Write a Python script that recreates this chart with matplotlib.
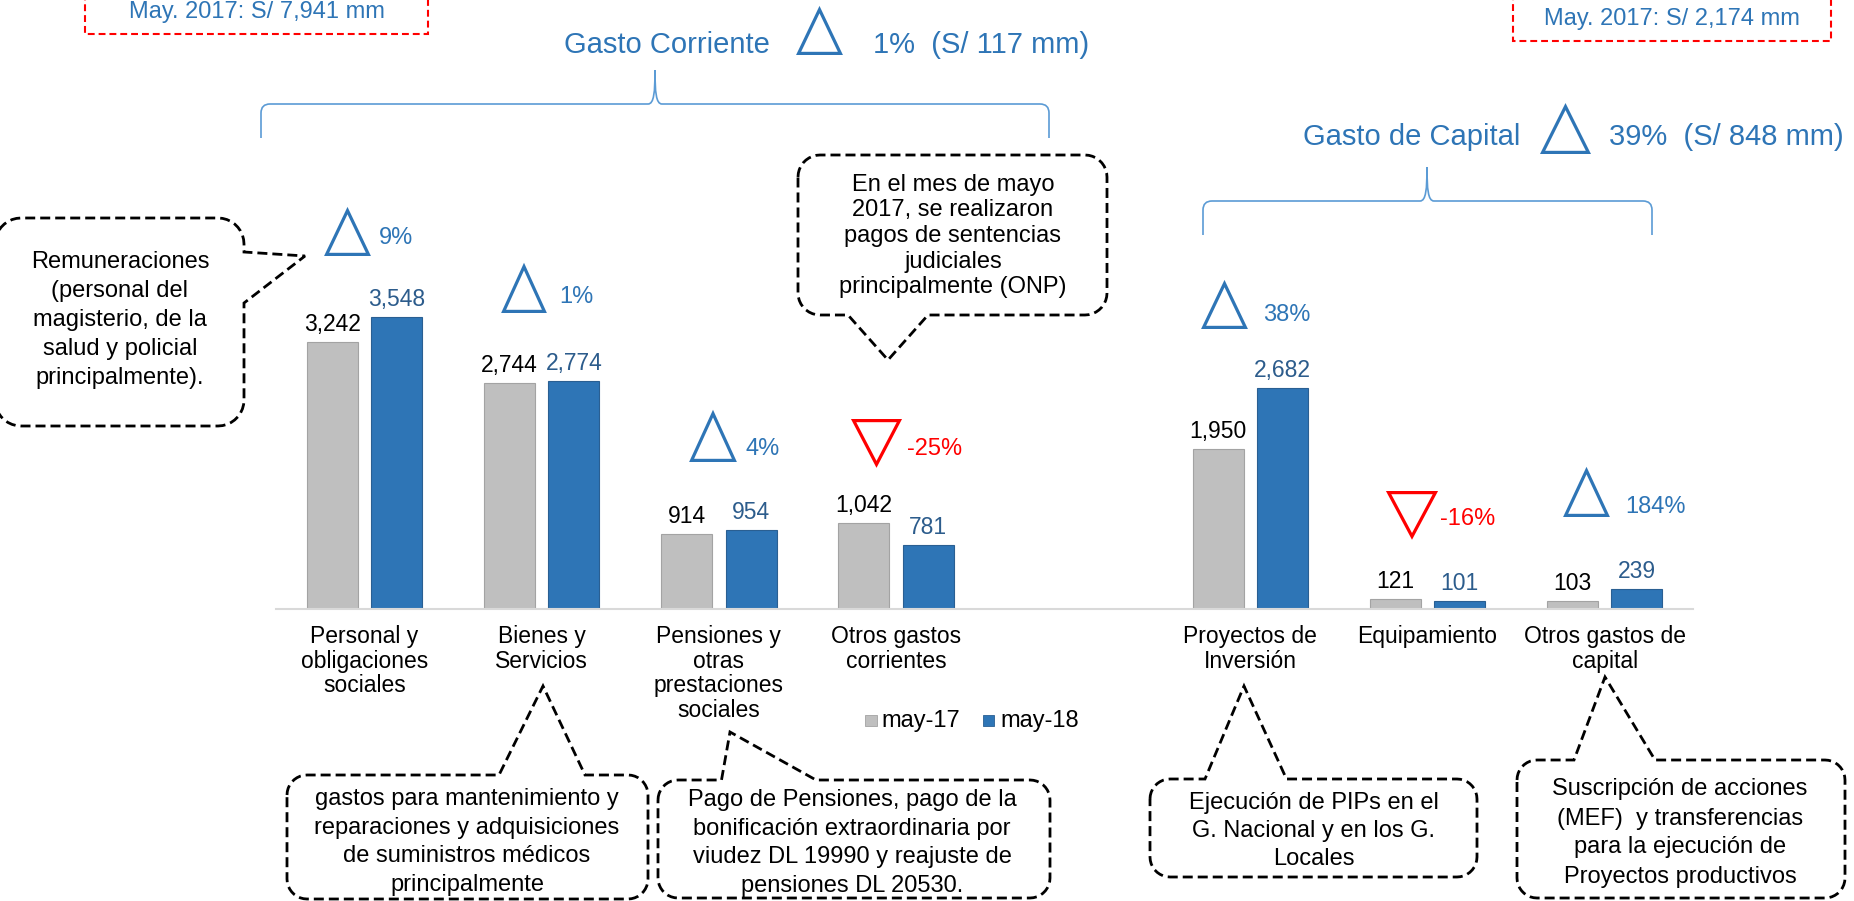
import matplotlib
matplotlib.use('Agg')
import matplotlib.pyplot as plt
import matplotlib.transforms as mtransforms
from matplotlib.patches import Polygon, Rectangle, PathPatch
from matplotlib.path import Path
import numpy as np

plt.rcParams['font.family'] = ['Liberation Sans', 'DejaVu Sans']

# --- data (S/ millones) ---
categories = ['Personal y\nobligaciones\nsociales', 'Bienes y\nServicios',
              'Pensiones y\notras\nprestaciones\nsociales', 'Otros gastos\ncorrientes',
              'Proyectos de\nInversión', 'Equipamiento', 'Otros gastos de\ncapital']
slots = [0, 1, 2, 3, 5, 6, 7]          # slot 4 is the gap between the two groups
may17 = [3242, 2744, 914, 1042, 1950, 121, 103]
may18 = [3548, 2774, 954, 781, 2682, 101, 239]
var_pct = [9, 1, 4, -25, 38, -16, 184]
series = ['may-17', 'may-18']

corr_2017, corr_diff, corr_pct = 7941, 117, 1
cap_2017, cap_diff, cap_pct = 2174, 848, 39

notes = {
    'remun': 'Remuneraciones\n(personal del\nmagisterio, de la\nsalud y policial\nprincipalmente).',
    'onp': 'En el mes de mayo\n2017, se realizaron\npagos de sentencias\njudiciales\nprincipalmente (ONP)',
    'bienes': 'gastos para mantenimiento y\nreparaciones y adquisiciones\nde suministros médicos\nprincipalmente',
    'pens': 'Pago de Pensiones, pago de la\nbonificación extraordinaria por\nviudez DL 19990 y reajuste de\npensiones DL 20530.',
    'pip': 'Ejecución de PIPs en el\nG. Nacional y en los G.\nLocales',
    'susc': 'Suscripción de acciones\n(MEF)  y transferencias\npara la ejecución de\nProyectos productivos',
}

# --- colours ---
grey, grey_edge = '#BFBFBF', '#A3A3A3'
blue, blue_edge = '#2E75B6', '#2A5F92'
blue_txt = '#2E75B6'
blue_val = '#2C5C8C'
red = '#FF0000'
brace_c = '#5B9BD5'

W, H = 1854, 901
fig = plt.figure(figsize=(W / 100, H / 100), dpi=100)

# bar axes: baseline at y=609 px from top, 0.0823 px per unit
ymax = 4000
ax = fig.add_axes([275.9 / W, (H - 609) / H, 1417.4 / W, ymax * 0.0823 / H])
ax.set_xlim(-0.5, 7.5)
ax.set_ylim(0, ymax)
ax.patch.set_visible(False)
for s in ['top', 'right', 'left']:
    ax.spines[s].set_visible(False)
ax.spines['bottom'].set_color('#D9D9D9')
ax.spines['bottom'].set_linewidth(1.5)
ax.set_xticks([])
ax.set_yticks([])

bw, off = 0.288, 0.182
x = np.array(slots, dtype=float)
ax.bar(x - off, may17, width=bw, color=grey, edgecolor=grey_edge, linewidth=0.8, label=series[0])
ax.bar(x + off, may18, width=bw, color=blue, edgecolor=blue_edge, linewidth=0.8, label=series[1])
for xi, v in zip(x - off, may17):
    ax.annotate(f'{v:,}', (xi, v), xytext=(0, 11), textcoords='offset pixels',
                ha='center', va='baseline', fontsize=16.5, color='black')
for xi, v in zip(x + off, may18):
    ax.annotate(f'{v:,}', (xi, v), xytext=(0, 11), textcoords='offset pixels',
                ha='center', va='baseline', fontsize=16.5, color=blue_val)

# overlay in pixel coordinates (y from top)
ov = fig.add_axes([0, 0, 1, 1])
ov.set_xlim(0, W)
ov.set_ylim(H, 0)
ov.axis('off')

# category labels under the bars
tr = mtransforms.blended_transform_factory(ax.transData, ov.transData)
for xi, cat in zip(x, categories):
    for k, line in enumerate(cat.split('\n')):
        ov.text(xi, 636.5 + 24.6 * k, line, transform=tr, ha='center', va='center', fontsize=16.5)

# variation triangles and percentages
tri_boxes = [(325, 370, 209, 256), (502, 546, 265, 313), (690, 736, 412, 462),
             (852, 901, 419, 466), (1202, 1247, 282, 329), (1387, 1437, 491, 538),
             (1564, 1609, 469, 517)]
pct_pos = [(379, 244), (559, 303), (746, 455), (907, 455), (1263, 321), (1440, 525), (1625, 513)]


def triangle(bx, up, color):
    x0, x1, t, b = bx
    i = 1.6
    x0, x1, t, b = x0 + i, x1 - i, t + i, b - i
    if up:
        pts = [(x0, b), (x1, b), ((x0 + x1) / 2, t)]
    else:
        pts = [(x0, t), (x1, t), ((x0 + x1) / 2, b)]
    ov.add_patch(Polygon(pts, closed=True, fill=False, edgecolor=color, linewidth=2.3, joinstyle='miter'))


for bx, (px, py), p in zip(tri_boxes, pct_pos, var_pct):
    c = blue_txt if p >= 0 else red
    triangle(bx, p >= 0, c)
    ov.text(px, py, f'{p}%', ha='left', va='baseline', fontsize=17, color=c)

# group headings
ov.text(564, 53, 'Gasto Corriente', ha='left', va='baseline', fontsize=21, color=blue_txt)
triangle((797, 842, 8, 55), True, blue_txt)
ov.text(873, 53, f'{corr_pct}%  (S/ {corr_diff} mm)', ha='left', va='baseline', fontsize=21, color=blue_txt)
ov.text(1303, 145, 'Gasto de Capital', ha='left', va='baseline', fontsize=21, color=blue_txt)
triangle((1541, 1590, 105, 154), True, blue_txt)
ov.text(1609, 145, f'{cap_pct}%  (S/ {cap_diff} mm)', ha='left', va='baseline', fontsize=21, color=blue_txt)


def brace(xl, xr, xm, yh, ytop, ybot):
    r = 9
    verts = [(xl, ybot), (xl, yh + r), (xl, yh), (xl + r, yh),
             (xm - 7, yh), (xm - 1, yh), (xm, yh - 12), (xm, ytop),
             (xm, yh - 12), (xm + 1, yh), (xm + 7, yh),
             (xr - r, yh), (xr, yh), (xr, yh + r), (xr, ybot)]
    codes = [Path.MOVETO, Path.LINETO, Path.CURVE3, Path.CURVE3,
             Path.LINETO, Path.CURVE4, Path.CURVE4, Path.CURVE4,
             Path.CURVE4, Path.CURVE4, Path.CURVE4,
             Path.LINETO, Path.CURVE3, Path.CURVE3, Path.LINETO]
    ov.add_patch(PathPatch(Path(verts, codes), fill=False, edgecolor=brace_c, linewidth=1.2))


brace(261, 1049, 655, 104, 70, 138)
brace(1203, 1652, 1427, 201, 167, 235)

# red dashed boxes at top (cut by the upper edge)
for (bx0, bx1, bb), tx, ty, val in [((85, 428, 33.5), 256.5, 18, corr_2017),
                                   ((1513, 1831, 41), 1672, 25, cap_2017)]:
    ov.add_patch(Rectangle((bx0, -40), bx1 - bx0, bb + 40, fill=False, edgecolor=red,
                           linewidth=1.5, linestyle=(0, (3.3, 1.9))))
    ov.text(tx, ty, f'May. 2017: S/ {val:,} mm', ha='center', va='baseline', fontsize=17, color=blue_txt)


def bubble(x0, y0, x1, y1, r, side, b1, b2, tip):
    def arc(cx, cy, a0, a1):
        t = np.radians(np.linspace(a0, a1, 10))
        return list(zip(cx + r * np.cos(t), cy + r * np.sin(t)))
    pts = arc(x0 + r, y0 + r, 180, 270)
    if side == 'top':
        pts += [(b1, y0), tip, (b2, y0)]
    pts += arc(x1 - r, y0 + r, 270, 360)
    if side == 'right':
        pts += [(x1, b1), tip, (x1, b2)]
    pts += arc(x1 - r, y1 - r, 0, 90)
    if side == 'bottom':
        pts += [(b2, y1), tip, (b1, y1)]
    pts += arc(x0 + r, y1 - r, 90, 180)
    ov.add_patch(Polygon(pts, closed=True, facecolor='white', edgecolor='black',
                         linewidth=2, linestyle=(0, (3.6, 1.8)), zorder=3))


def note(key, cx, y0, dy):
    for k, line in enumerate(notes[key].split('\n')):
        ov.text(cx, y0 + dy * k, line, ha='center', va='center', fontsize=17, zorder=4)


bubble(-5, 218, 244, 426, 26, 'right', 252, 303, (305, 256))
note('remun', 120, 262.5, 28.9)
bubble(798, 155, 1107, 315, 22, 'bottom', 848, 928, (888, 360))
note('onp', 953, 184.5, 25.7)
bubble(287, 775, 648, 899, 20, 'top', 499, 585, (543, 686))
note('bienes', 467, 799, 28.7)
bubble(658, 780, 1050, 898, 20, 'top', 721.5, 816, (730, 732))
note('pens', 852, 800, 28.7)
bubble(1150, 779, 1477, 877, 20, 'top', 1205, 1286.5, (1244, 686))
note('pip', 1314, 803, 28.2)
bubble(1517, 760, 1845, 898, 20, 'top', 1574, 1655, (1605, 677))
note('susc', 1680, 789.5, 29)

# legend
ov.add_patch(Rectangle((865, 715), 12, 11, facecolor=grey, edgecolor=grey_edge, linewidth=0.6))
ov.text(881, 720.5, series[0], ha='left', va='center', fontsize=17)
ov.add_patch(Rectangle((983, 715), 11, 11, facecolor=blue, edgecolor=blue_edge, linewidth=0.6))
ov.text(1000.7, 720.5, series[1], ha='left', va='center', fontsize=17)

fig.savefig('out.png', dpi=100)
